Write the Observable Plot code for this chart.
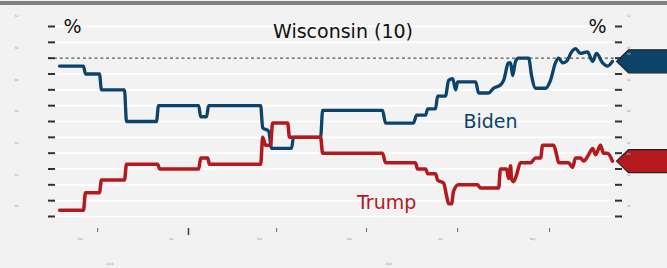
<!DOCTYPE html>
<html>
<head>
<meta charset="utf-8">
<script src="https://cdn.jsdelivr.net/npm/d3@7"></script>
<script src="https://cdn.jsdelivr.net/npm/@observablehq/plot@0.6"></script>
<style>
  html, body { margin: 0; padding: 0; background: #f2f2f2; }
  #wrap { position: relative; width: 667px; height: 268px; overflow: hidden; }
  #topbar { position: absolute; left: 0; top: 1px; width: 667px; height: 4px; background: #7f7f7f; }
  svg { display: block; }
</style>
</head>
<body>
<div id="wrap"><div id="topbar"></div><div id="chart"></div></div>
<script>
// ---- data ----
const title = "Wisconsin (10)";
const bidenDays = [0, 8.2, 8.9, 13.7, 14.4, 22.3, 23.0, 33.3, 34.0, 47.8, 48.5, 50.5, 51.2, 69.1, 69.8, 71.8, 72.9, 79.7, 80.4, 89.7, 90.4, 111.0, 112.0, 121.6, 122.7, 125.8, 126.5, 129.2, 129.9, 132.6, 133.7, 135.1, 136.1, 136.8, 143.0, 144.0, 147.4, 149.1, 151.5, 152.6, 154.3, 155.0, 155.7, 156.7, 157.7, 161.2, 162.2, 163.6, 167.0, 168.7, 170.4, 171.5, 172.9, 174.2, 176.0, 177.3, 179.0, 181.4, 183.2, 184.5, 186.6, 188.3, 190.0];
const bidenVals = [49.5, 49.5, 49.0, 49.0, 48.0, 48.0, 46.0, 46.0, 47.0, 47.0, 46.3, 46.3, 47.0, 47.0, 45.6, 45.4, 44.3, 44.3, 45.0, 45.0, 46.7, 46.7, 45.9, 45.9, 46.4, 46.4, 46.8, 46.8, 47.6, 47.6, 48.6, 48.7, 48.0, 48.5, 48.5, 47.8, 47.8, 48.1, 48.3, 48.6, 49.7, 49.7, 48.9, 49.8, 50.0, 50.0, 48.9, 48.1, 48.1, 48.6, 49.7, 50.0, 49.7, 49.8, 50.4, 50.6, 50.3, 50.4, 49.8, 50.3, 49.7, 49.5, 49.8];
const trumpDays = [0, 8.2, 8.9, 13.7, 14.4, 22.3, 23.0, 33.7, 34.4, 47.8, 48.5, 50.9, 51.5, 69.1, 69.8, 70.8, 72.5, 73.2, 78.4, 79.0, 89.7, 90.4, 111.0, 112.0, 122.3, 123.0, 125.8, 126.5, 129.2, 129.9, 132.0, 133.0, 133.7, 134.7, 135.4, 137.1, 143.6, 144.7, 150.9, 151.5, 153.6, 154.3, 155.0, 155.3, 156.0, 157.0, 158.4, 161.9, 163.6, 165.3, 166.0, 169.8, 170.8, 171.5, 174.9, 176.3, 177.3, 179.0, 180.1, 181.8, 183.2, 184.2, 185.9, 186.9, 188.3, 190.0];
const trumpVals = [40.4, 40.4, 41.5, 41.5, 42.3, 42.3, 43.3, 43.3, 43.0, 43.0, 43.7, 43.7, 43.3, 43.3, 45.0, 44.5, 44.5, 45.9, 45.9, 45.0, 45.0, 44.0, 44.0, 43.4, 43.4, 43.0, 43.0, 42.7, 42.7, 42.3, 42.1, 41.3, 40.8, 40.8, 41.6, 42.0, 42.0, 41.8, 41.8, 43.0, 43.0, 42.4, 43.2, 42.4, 42.2, 42.6, 43.4, 43.4, 43.7, 43.7, 44.5, 44.5, 43.9, 43.4, 43.4, 43.1, 43.7, 43.7, 43.5, 43.9, 44.3, 43.9, 44.5, 44.0, 44.0, 43.5];
const yTicks = [40, 41, 42, 43, 44, 45, 46, 47, 48, 49, 50, 51, 52];
const yLabelVals = [40, 42, 44, 46, 48, 50, 52];
const xTickDays = [13.1, 44.3, 74.6, 105.5, 136.8, 168.4];
const xTickLabels = ["Dec", "Jan", "Feb", "Mar", "Apr", "May"];
const yearBreakDay = [44.3];
const yearDays = [17.2, 113.1];
const yearLabels = ["2019", "2020"];
const seriesNames = ["Biden", "Trump"];
const seriesLabelDays = [148.1, 112.4];
const seriesLabelVals = [45.6, 40.5];

const BLUE = "#0b436b";
const RED = "#b3191f";
const FONT = "'DejaVu Sans', 'Open Sans', sans-serif";

const biden = bidenDays.map((d, i) => ({day: d, v: bidenVals[i]}));
const trump = trumpDays.map((d, i) => ({day: d, v: trumpVals[i]}));
const lastB = biden[biden.length - 1].v;
const lastT = trump[trump.length - 1].v;

const arrowSymbol = {
  draw(ctx) {
    ctx.moveTo(2, 0);
    ctx.lineTo(14, -11.5);
    ctx.lineTo(70, -11.5);
    ctx.lineTo(70, 11.5);
    ctx.lineTo(14, 11.5);
    ctx.closePath();
  }
};

const chart = Plot.plot({
  width: 667,
  height: 268,
  marginLeft: 55,
  marginRight: 53,
  marginTop: 26,
  marginBottom: 52,
  style: {background: "transparent", fontFamily: FONT, overflow: "visible"},
  x: {domain: [-1.4, 190.7]},
  y: {domain: [40, 52]},
  marks: [
    Plot.gridY(yTicks, {stroke: "#ffffff", strokeOpacity: 1, strokeWidth: 1.6}),
    Plot.ruleY([50], {stroke: "#555", strokeDasharray: "3.2,2.6", strokeWidth: 1.3, insetLeft: -7, insetRight: -2}),
    Plot.axisY(yTicks, {anchor: "left", label: null, tickSize: 7, tickFormat: () => "", stroke: "#333", strokeWidth: 2}),
    Plot.axisY(yTicks, {anchor: "right", label: null, tickSize: 7, tickFormat: () => "", stroke: "#333", strokeWidth: 2}),
    Plot.text(yLabelVals, {y: d => d, text: d => String(d), frameAnchor: "left", dx: -41, dy: -10, fontSize: 3, fill: "#999"}),
    Plot.text(yLabelVals, {y: d => d, text: d => String(d), frameAnchor: "right", dx: 16, dy: -10, fontSize: 3, fill: "#999"}),
    Plot.axisX(xTickDays, {anchor: "bottom", label: null, tickSize: 4, tickFormat: () => "", dy: 12, stroke: "#666", strokeWidth: 1}),
    Plot.axisX(yearBreakDay, {anchor: "bottom", label: null, tickSize: 7, tickFormat: () => "", dy: 12, stroke: "#444", strokeWidth: 1.6}),
    Plot.text(xTickDays, {x: d => d, text: (d, i) => xTickLabels[i], frameAnchor: "bottom", dy: 23, dx: -17, fontSize: 3, fill: "#999"}),
    Plot.text(yearDays, {x: d => d, text: (d, i) => yearLabels[i], frameAnchor: "bottom", dy: 48, fontSize: 3, fill: "#999"}),
    Plot.line(biden, {x: "day", y: "v", stroke: BLUE, strokeWidth: 3.3, curve: "monotone-x", strokeLinejoin: "round"}),
    Plot.line(trump, {x: "day", y: "v", stroke: RED, strokeWidth: 3.5, curve: "monotone-x", strokeLinejoin: "round"}),
    Plot.text(seriesNames, {x: (d, i) => seriesLabelDays[i], y: (d, i) => seriesLabelVals[i], text: d => d, fill: (d, i) => i === 0 ? BLUE : RED, fontSize: 19, lineAnchor: "bottom", textAnchor: "middle"}),
    Plot.text([title], {text: d => d, frameAnchor: "top", dx: 8, dy: 11, lineAnchor: "bottom", fontSize: 19, fill: "#111"}),
    Plot.text(["%"], {text: d => d, frameAnchor: "top-left", dx: 17, dy: 6, lineAnchor: "bottom", textAnchor: "middle", fontSize: 19, fill: "#111"}),
    Plot.text(["%"], {text: d => d, frameAnchor: "top-right", dx: -17, dy: 6, lineAnchor: "bottom", textAnchor: "middle", fontSize: 19, fill: "#111"}),
    Plot.dot([lastB], {y: d => d, frameAnchor: "right", symbol: arrowSymbol, r: 5, fill: BLUE, stroke: "#222", strokeWidth: 1.2}),
    Plot.dot([lastT], {y: d => d, frameAnchor: "right", symbol: arrowSymbol, r: 5, fill: RED, stroke: "#222", strokeWidth: 1.2}),
    Plot.text([lastB, lastT], {y: d => d, text: d => d.toFixed(0), frameAnchor: "right", dx: 16, dy: -7, fontSize: 3, fill: "#ccc"})
  ]
});
document.getElementById("chart").appendChild(chart);
</script>
</body>
</html>
